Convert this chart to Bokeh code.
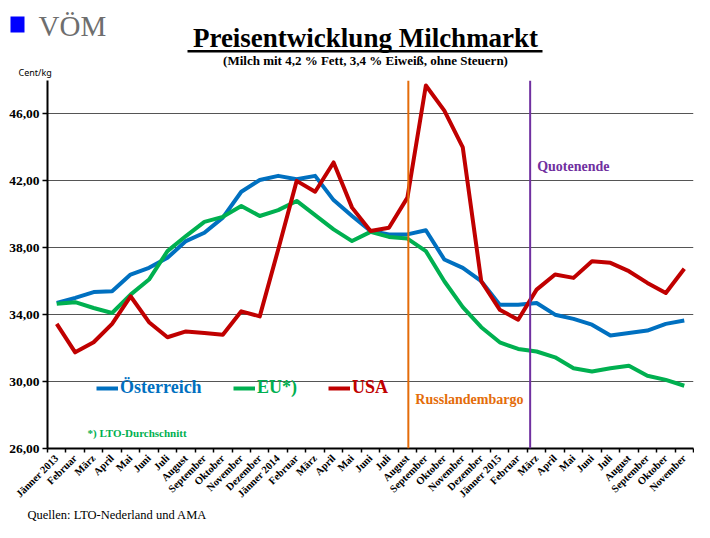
import math
from bokeh.plotting import figure
from bokeh.layouts import column
from bokeh.models import (Range1d, LinearAxis, FixedTicker, Span, Label, BoxAnnotation,
                          Legend, LegendItem, ColumnDataSource, Grid)
from bokeh.embed import file_html
from bokeh.resources import INLINE

# ---------------- data ----------------
months = ["Jänner 2013", "Februar", "März", "April", "Mai", "Juni", "Juli", "August",
          "September", "Oktober", "November", "Dezember",
          "Jänner 2014", "Februar", "März", "April", "Mai", "Juni", "Juli", "August",
          "September", "Oktober", "November", "Dezember",
          "Jänner 2015", "Februar", "März", "April", "Mai", "Juni", "Juli", "August",
          "September", "Oktober", "November"]

oesterreich = [34.7, 35.0, 35.35, 35.4, 36.4, 36.8, 37.4, 38.4, 38.9, 39.8, 41.35, 42.05,
               42.3, 42.1, 42.3, 40.85, 39.9, 39.0, 38.8, 38.8, 39.05, 37.3, 36.8, 36.0,
               34.6, 34.6, 34.7, 34.0, 33.75, 33.4, 32.75, 32.9, 33.05, 33.45, 33.65]

eu = [34.65, 34.75, 34.4, 34.1, 35.2, 36.1, 37.8, 38.7, 39.55, 39.85, 40.5, 39.9,
      40.25, 40.8, 39.95, 39.1, 38.4, 38.95, 38.65, 38.55, 37.8, 36.0, 34.45, 33.25,
      32.35, 31.95, 31.8, 31.45, 30.8, 30.6, 30.8, 30.95, 30.35, 30.1, 29.75]

usa = [33.45, 31.75, 32.35, 33.45, 35.1, 33.55, 32.65, 33.0, 32.9, 32.8, 34.2, 33.9,
       37.9, 42.0, 41.35, 43.1, 40.4, 39.0, 39.2, 41.0, 47.7, 46.2, 44.0, 36.0,
       34.3, 33.7, 35.5, 36.4, 36.2, 37.2, 37.1, 36.6, 35.9, 35.3, 36.75]

y_ticks = [26, 30, 34, 38, 42, 46]
y_tick_labels = ["26,00", "30,00", "34,00", "38,00", "42,00", "46,00"]

# events: (label, month position on the category axis)
event_names = ["Russlandembargo", "Quotenende"]
event_pos = [19.55, 26.15]

BLUE = "#0070C0"
GREEN = "#00B050"
RED = "#C00000"
ORANGE = "#E46C0A"
PURPLE = "#7030A0"
SERIF = "Liberation Serif"
W = 694

# ---------------- header ----------------
HEAD_H = 78
head = figure(width=W, height=HEAD_H, x_range=Range1d(0, W), y_range=Range1d(HEAD_H, 0),
              output_backend="svg", toolbar_location=None, x_axis_type=None,
              y_axis_type=None, min_border=0, frame_align=False)
head.outline_line_color = None
head.add_layout(BoxAnnotation(left=10, right=24, top=16, bottom=32,
                              fill_color="#0000FF", fill_alpha=1, line_color=None))
head.add_layout(Label(x=38, y=25, text="VÖM", text_baseline="middle",
                      text_color="#6E6E6E", text_font=SERIF, text_font_size="29px"))
head.add_layout(Label(x=365, y=37, text="Preisentwicklung Milchmarkt", text_align="center",
                      text_baseline="middle", text_color="black", text_font=SERIF,
                      text_font_style="bold", text_font_size="27px"))
head.add_layout(BoxAnnotation(left=187, right=542, top=49.5, bottom=52,
                              fill_color="black", fill_alpha=1, line_color=None))
head.add_layout(Label(x=365, y=60, text="(Milch mit 4,2 % Fett, 3,4 % Eiweiß, ohne Steuern)",
                      text_align="center", text_baseline="middle", text_color="black",
                      text_font=SERIF, text_font_style="bold", text_font_size="13px"))
head.add_layout(Label(x=18, y=72, text="Cent/kg", text_baseline="middle",
                      text_color="black", text_font="Noto Sans", text_font_size="9px"))

# ---------------- main chart ----------------
FOOT_H = 16
x = [i + 0.5 for i in range(len(months))]
src = ColumnDataSource(dict(x=x, oe=oesterreich, eu=eu, usa=usa))

p = figure(width=W, height=522 - HEAD_H - FOOT_H, x_range=Range1d(0, len(months)),
           y_range=Range1d(26, 48), output_backend="svg", toolbar_location=None,
           x_axis_type=None, y_axis_type=None, frame_align=False,
           min_border_left=47, min_border_right=1, min_border_top=2, min_border_bottom=55)
p.outline_line_color = None

grid = Grid(dimension=1, ticker=FixedTicker(ticks=y_ticks), grid_line_color="#555555",
            grid_line_width=1.2)
p.add_layout(grid)

yaxis = LinearAxis(ticker=FixedTicker(ticks=y_ticks),
                   major_label_overrides=dict(zip(y_ticks, y_tick_labels)),
                   axis_line_color="black", axis_line_width=2,
                   major_tick_out=5, major_tick_in=0, minor_tick_line_color=None,
                   major_tick_line_color="black", major_tick_line_width=1.5,
                   major_label_text_font=SERIF, major_label_text_font_style="bold",
                   major_label_text_font_size="13.5px", major_label_text_color="black",
                   major_label_standoff=3)
p.add_layout(yaxis, "left")

# category axis: labels at centres, tick marks (minor ticks) between categories
xaxis = LinearAxis(ticker=FixedTicker(ticks=x, minor_ticks=list(range(len(months) + 1))),
                   major_label_overrides={xv: m for xv, m in zip(x, months)},
                   axis_line_color="black", axis_line_width=2,
                   major_tick_line_color=None, major_tick_out=4, major_tick_in=0,
                   minor_tick_line_color="black", minor_tick_line_width=1.5,
                   minor_tick_out=4, minor_tick_in=0,
                   major_label_orientation=math.pi / 4,
                   major_label_text_font=SERIF, major_label_text_font_style="bold",
                   major_label_text_font_size="10.5px", major_label_text_color="black",
                   major_label_standoff=4)
p.add_layout(xaxis, "below")

for pos, col in zip(event_pos, [ORANGE, PURPLE]):
    p.add_layout(Span(location=pos, dimension="height", line_color=col, line_width=2))

p.add_layout(Label(x=event_pos[0], y=28.9, x_offset=7, text=event_names[0],
                   text_baseline="middle", text_color=ORANGE, text_font=SERIF,
                   text_font_style="bold", text_font_size="14px"))
p.add_layout(Label(x=event_pos[1], y=42.85, x_offset=7, text=event_names[1],
                   text_baseline="middle", text_color=PURPLE, text_font=SERIF,
                   text_font_style="bold", text_font_size="14px"))

r_oe = p.line("x", "oe", source=src, line_color=BLUE, line_width=4, line_join="round")
r_eu = p.line("x", "eu", source=src, line_color=GREEN, line_width=4, line_join="round")
r_us = p.line("x", "usa", source=src, line_color=RED, line_width=4, line_join="round")

for lab, r, col, lx in [("Österreich", r_oe, BLUE, 49), ("EU*)", r_eu, GREEN, 186),
                        ("USA", r_us, RED, 281)]:
    leg = Legend(items=[LegendItem(label=lab, renderers=[r])], location=(lx, 50),
                 orientation="horizontal", border_line_color=None,
                 background_fill_alpha=0, padding=0, margin=0, spacing=0,
                 glyph_width=22, glyph_height=20, label_height=20, label_standoff=2,
                 label_text_font=SERIF, label_text_font_style="bold",
                 label_text_font_size="18px", label_text_color=col)
    p.add_layout(leg, "center")

p.add_layout(Label(x=40, y=16, x_units="screen", y_units="screen", text="*) LTO-Durchschnitt",
                   text_baseline="middle", text_color=GREEN, text_font=SERIF,
                   text_font_style="bold", text_font_size="11px"))

# ---------------- footer ----------------
foot = figure(width=W, height=FOOT_H, x_range=Range1d(0, W), y_range=Range1d(FOOT_H, 0),
              output_backend="svg", toolbar_location=None, x_axis_type=None,
              y_axis_type=None, min_border=0, frame_align=False)
foot.outline_line_color = None
foot.add_layout(Label(x=27, y=8, text="Quellen: LTO-Nederland und AMA", text_baseline="middle",
                      text_color="black", text_font=SERIF, text_font_size="12.5px"))

layout = column(head, p, foot, spacing=0)
open("out.html", "w").write(file_html(layout, INLINE))
